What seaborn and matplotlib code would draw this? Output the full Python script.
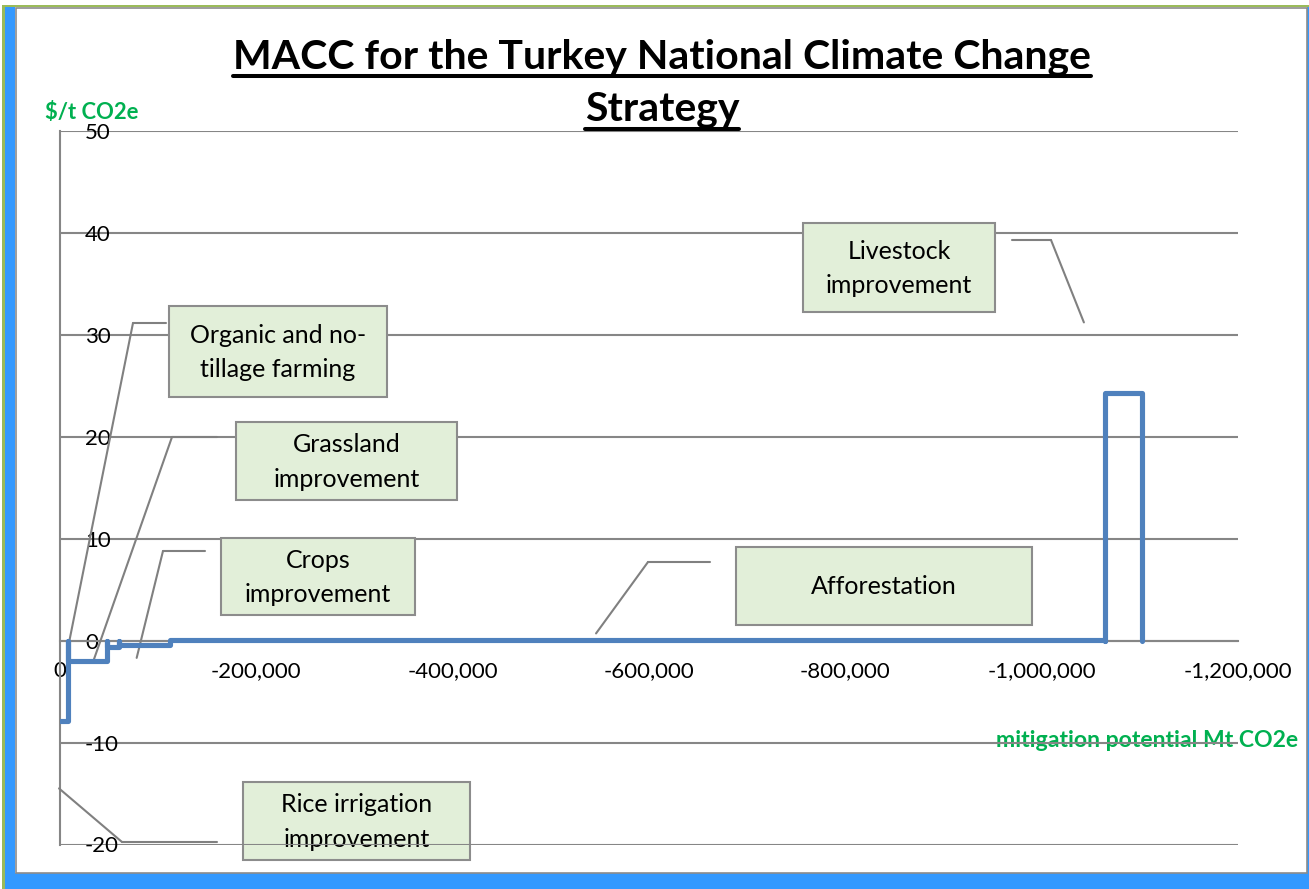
import numpy as np
import pandas as pd
import matplotlib
matplotlib.use("Agg")
import matplotlib.pyplot as plt
import seaborn as sns
from matplotlib.patches import Rectangle
from matplotlib.lines import Line2D
from matplotlib.ticker import FuncFormatter

# ---------------- data ----------------
measures = ["Rice irrigation improvement", "Organic and no-tillage farming",
            "Grassland improvement", "Crops improvement", "Afforestation",
            "Livestock improvement"]
x_start = [0, -7700, -48000, -60300, -112000, -1064000]
x_end = [-7700, -48000, -60300, -112000, -1064000, -1102000]
costs = [-7.9, -2.0, -0.6, -0.4, 0.1, 24.3]
y_ticks = [-20, -10, 0, 10, 20, 30, 40, 50]
x_ticks = [0, -200000, -400000, -600000, -800000, -1000000, -1200000]

title_lines = ["MACC for the Turkey National Climate Change", "Strategy"]
y_label = r"\$/t CO2e"
x_label = "mitigation potential Mt CO2e"

# callout labels
callout_text = ["Rice irrigation\nimprovement", "Organic and no-\ntillage farming",
                "Grassland\nimprovement", "Crops\nimprovement", "Afforestation",
                "Livestock\nimprovement"]
# anchor points of leader lines (data coordinates)
callout_anchor = [(1100, -14.5), (-7000, -1.2), (-33900, -2.0), (-78000, -1.7),
                  (-546000, 0.7), (-1043000, 31.2)]

# ---------------- layout (pixels) ----------------
W, H = 1309, 889
box_px = [(243, 782, 470, 860), (169, 306, 387, 397), (236, 422, 457, 500),
          (221, 538, 415, 615), (736, 547, 1032, 625), (803, 223, 995, 312)]
elbow_px = [(122, 842), (133, 323), (172, 437), (163, 551), (648, 562), (1051, 240)]
end_px = [(217, 842), (166, 323), (217, 437), (205, 551), (710, 562), (1012, 240)]

def fx(px):
    return px / W

def fy(py):
    return 1 - py / H

# ---------------- style ----------------
sns.set_style("white")
plt.rcParams['font.family'] = ['Lato', 'DejaVu Sans']
grey = "#868686"
blue_line = "#4F81BD"
green_txt = "#00B050"

fig = plt.figure(figsize=(W / 100, H / 100), dpi=100)
fig.patch.set_facecolor("white")

# frame decoration
def frame_rect(x, y, w, h, **kw):
    fig.patches.append(Rectangle((x, y), w, h, transform=fig.transFigure, zorder=-10, **kw))

frame_rect(fx(2), 0, fx(3), fy(5), facecolor="#9BBB59", edgecolor="none")
frame_rect(fx(2), fy(7), 1 - fx(2), fy(5) - fy(7), facecolor="#9BBB59", edgecolor="none")
frame_rect(fx(5), 0, fx(15.5) - fx(5), fy(7), facecolor="#3399FF", edgecolor="none")
frame_rect(fx(5), 0, 1 - fx(5), fy(873), facecolor="#3399FF", edgecolor="none")
frame_rect(fx(1307), 0, 1 - fx(1307), fy(7), facecolor="#3399FF", edgecolor="none")
frame_rect(fx(16), fy(872.5), fx(1306.5) - fx(16), fy(7.5) - fy(872.5),
           facecolor="white", edgecolor="#8C8C8C", linewidth=1.2)

ax_left, ax_right, ax_top, ax_bottom = 60.1, 1238, 130.7, 844.5
ax = fig.add_axes([fx(ax_left), fy(ax_bottom), fx(ax_right) - fx(ax_left), fy(ax_top) - fy(ax_bottom)])
ax.set_facecolor("none")

# step path built from the measure arrays
px_, py_ = [], []
for s, e, c in zip(x_start, x_end, costs):
    px_ += [s, e, e]
    py_ += [c, c, 0]
df = pd.DataFrame({"x": px_, "y": py_})
sns.lineplot(data=df, x="x", y="y", sort=False, estimator=None, color=blue_line,
             linewidth=3.7, ax=ax, zorder=3)
for ln in ax.lines:
    ln.set_solid_joinstyle("round")
    ln.set_solid_capstyle("round")

ax.set_xlim(0, -1200000)
ax.set_ylim(-20, 50)
ax.set_xticks(x_ticks)
ax.set_yticks(y_ticks)
ax.xaxis.set_major_formatter(FuncFormatter(lambda v, p: f"{v:,.0f}" if v != 0 else "0"))
ax.yaxis.set_major_formatter(FuncFormatter(lambda v, p: f"{v:.0f}" if v != 0 else "0"))
ax.set_xlabel("")
ax.set_ylabel("")

for sp in ["top", "right"]:
    ax.spines[sp].set_visible(False)
ax.spines["bottom"].set_position(("data", 0))
ax.spines["left"].set_color(grey)
ax.spines["bottom"].set_color(grey)
ax.spines["left"].set_linewidth(1.5)
ax.spines["bottom"].set_linewidth(1.5)
ax.spines["left"].set_zorder(1)
ax.spines["bottom"].set_zorder(1)

ax.set_axisbelow(True)
ax.yaxis.grid(True, color=grey, linewidth=1.5)
ax.xaxis.grid(False)

ax.tick_params(axis="x", direction="out", length=6, width=1.5, color=grey,
               labelsize=16, pad=9, labelcolor="black")
ax.tick_params(axis="y", direction="out", length=6, width=1.5, color=grey,
               labelsize=16, pad=-24, labelcolor="black")
for lab in ax.get_yticklabels():
    lab.set_horizontalalignment("left")

# title with underline
title_base = [68, 121]
title_objs = []
for t, b in zip(title_lines, title_base):
    title_objs.append(fig.text(fx(662), fy(b), t, ha="center", va="baseline",
                               fontsize=29.5, fontweight="bold", color="black"))

# axis labels
fig.text(fx(45), fy(119), y_label, ha="left", va="baseline", fontsize=15.8,
         fontweight="bold", color=green_txt)
ax.text(fx(1298), fy(747), x_label, transform=fig.transFigure, ha="right", va="baseline",
        fontsize=16.6, fontweight="bold", color=green_txt, zorder=0.2)

# callouts
for i, (txt, anc) in enumerate(zip(callout_text, callout_anchor)):
    x0, y0, x1, y1 = box_px[i]
    z = 0.3 if i == 0 else 4
    ax.add_patch(Rectangle((fx(x0), fy(y1)), fx(x1) - fx(x0), fy(y0) - fy(y1),
                           transform=fig.transFigure, facecolor="#E2EFD9",
                           edgecolor="#8C8C8C", linewidth=1.5, clip_on=False, zorder=z))
    ax.text(fx((x0 + x1) / 2), fy((y0 + y1) / 2 + 1), txt, transform=fig.transFigure,
            ha="center", va="center", fontsize=18, color="black", linespacing=1.6,
            zorder=z + 0.1)
    ex, ey = elbow_px[i]
    tx, ty = end_px[i]
    ax.annotate("", xy=anc, xycoords="data", xytext=(fx(ex), fy(ey)),
                textcoords="figure fraction",
                arrowprops=dict(arrowstyle="-", color="#808080", lw=1.5,
                                shrinkA=0, shrinkB=0), annotation_clip=False, zorder=2)
    ax.add_line(Line2D([fx(ex), fx(tx)], [fy(ey), fy(ty)], transform=fig.transFigure,
                       color="#808080", linewidth=1.5, clip_on=False, zorder=2))

# underline the title
fig.canvas.draw()
r = fig.canvas.get_renderer()
for t, b in zip(title_objs, title_base):
    bb = t.get_window_extent(renderer=r)
    ux0, ux1 = bb.x0 / W, bb.x1 / W
    fig.lines.append(Line2D([ux0, ux1], [fy(b + 8), fy(b + 8)], transform=fig.transFigure,
                            color="black", linewidth=2.9))

fig.savefig("out.png", dpi=100, facecolor="white")
